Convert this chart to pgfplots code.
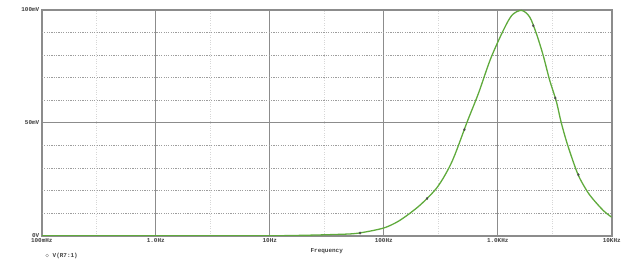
\documentclass[border=0pt]{standalone}
\usepackage{pgfplots}
\pgfplotsset{compat=1.18}
\usepackage{fontspec}
\setmainfont{Liberation Sans}
\setmonofont{Liberation Mono}
\definecolor{trace}{RGB}{95,170,60}
\definecolor{gridc}{RGB}{140,140,140}
\begin{document}
\begin{tikzpicture}
\begin{axis}[
  scale only axis,
  width=573pt, height=227pt,
  xmode=log,
  xmin=0.1, xmax=10000,
  ymin=0, ymax=100,
  axis line style={draw=gridc, line width=1.6pt},
  xtick={0.1,1,10,100,1000,10000},
  xticklabels={100mHz,1.0Hz,10Hz,100Hz,1.0KHz,10KHz},
  ytick={0,50,100},
  yticklabels={0V,50mV,100mV},
  extra y ticks={10,20,30,40,60,70,80,90},
  extra y tick labels={},
  extra y tick style={grid=major, major grid style={draw=gridc!85, dash pattern=on 1.2pt off 1.2pt, line width=0.8pt}},
  minor xtick={0.3,3,30,300,3000},
  grid=both,
  major grid style={draw=gridc, line width=1.1pt},
  minor grid style={draw=gridc!35, dotted, line width=0.6pt},
  tick style={draw=none},
  ticklabel style={font=\ttfamily\bfseries\fontsize{6}{6}\selectfont, text=black!75},
  xticklabel style={yshift=1pt},
  yticklabel style={xshift=1pt},
  xlabel={Frequency},
  xlabel style={font=\ttfamily\bfseries\fontsize{6}{6}\selectfont, text=black!75, yshift=1pt},
  clip mode=individual,
]
\addplot[color=trace, line width=1.3pt, smooth, tension=0.5] coordinates {
(0.1,0) (1,0) (10,0) (20,0.2) (40,0.6) (59,1.1) (98,3.3) (130,6) (161,9.1)
(200,12.8) (241,16.6) (290,21) (337,26) (390,32) (440,38.4) (537,50.2) (679,63.2) (857,77.8) (1084,89.5)
(1324,97.5) (1618,99.8) (1910,96.8) (2183,89.5) (2500,80) (2850,69) (3265,59.5)
(3610,50) (4125,39.8) (5040,27.3) (6000,20.2) (6800,16.4) (8500,11) (10000,8.2)
};
\addplot[only marks, mark=diamond*, mark size=1.2pt, color=black!70] coordinates {
(62,1.2) (240,16.5) (510,47) (2050,93) (3200,61) (5100,27)
};
\node[anchor=west, font=\ttfamily\bfseries\fontsize{6}{6}\selectfont, text=black!75] at (rel axis cs:0.0,-0.09) {$\diamond$ V(R7:1)};
\end{axis}
\path ([shift={(-42pt,-35pt)}]current axis.south west) rectangle ([shift={(9pt,10pt)}]current axis.north east);
\end{tikzpicture}
\end{document}
